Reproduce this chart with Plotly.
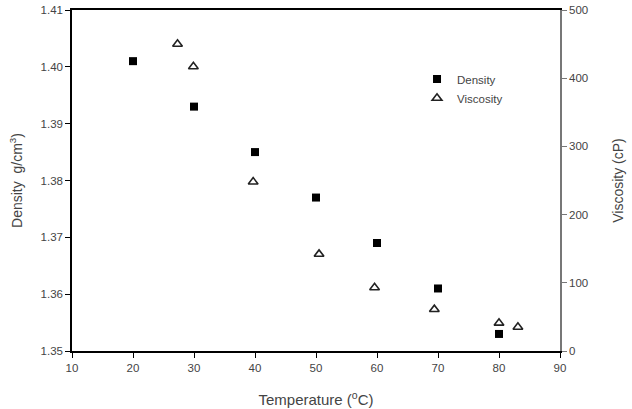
import plotly.graph_objects as go

temp_density = [20, 30, 40, 50, 60, 70, 80]
density = [1.401, 1.393, 1.385, 1.377, 1.369, 1.361, 1.353]

temp_visc = [27.3, 29.9, 39.7, 50.5, 59.6, 69.4, 80.0, 83.1]
viscosity = [450, 417, 248, 142, 93, 61, 41, 35]

x_ticks = [10, 20, 30, 40, 50, 60, 70, 80, 90]
y_ticks = [1.35, 1.36, 1.37, 1.38, 1.39, 1.40, 1.41]
y2_ticks = [0, 100, 200, 300, 400, 500]

FONT = "Liberation Sans, Arial, sans-serif"
TXT = "#444"

fig = go.Figure()
fig.add_trace(go.Scatter(
    x=temp_density, y=density, mode="markers", name="Density",
    marker=dict(symbol="square", size=8, color="black", line=dict(width=0)),
))
fig.add_trace(go.Scatter(
    x=temp_visc, y=viscosity, mode="markers", name="Viscosity", yaxis="y2",
    marker=dict(symbol="triangle-up-open", size=8.5, color="#222", line=dict(width=1.6)),
))

fig.update_layout(
    width=632, height=409,
    margin=dict(l=72, r=72, t=10, b=58),
    plot_bgcolor="white", paper_bgcolor="white",
    font=dict(family=FONT, size=11.5, color=TXT),
    showlegend=True,
    legend=dict(x=0.707, y=0.84, xanchor="left", yanchor="top",
                bgcolor="rgba(0,0,0,0)", font=dict(size=11.5, color=TXT),
                itemwidth=30, tracegroupgap=0),
    xaxis=dict(range=[10, 90], tickvals=x_ticks, ticks="outside", ticklen=5,
               tickcolor="black", showline=True, linecolor="black", linewidth=1.5,
               mirror=True, showgrid=False, zeroline=False, automargin=False,
               title=dict(text="Temperature (<sup>o</sup>C)", font=dict(size=15, color=TXT), standoff=22),
               tickfont=dict(size=11.5, color=TXT)),
    yaxis=dict(range=[1.35, 1.41], tickvals=y_ticks, tickformat=".2f",
               ticks="outside", ticklen=5, tickcolor="black", showline=True,
               linecolor="black", linewidth=1.5, showgrid=False, zeroline=False,
               automargin=False,
               title=dict(text="Density  g/cm<sup>3</sup>)", font=dict(size=14, color=TXT), standoff=15),
               tickfont=dict(size=11.5, color=TXT)),
    yaxis2=dict(range=[0, 500], tickvals=y2_ticks, overlaying="y", side="right",
                ticks="outside", ticklen=5, tickcolor="#777", showline=True,
                linecolor="#777", linewidth=1.5, showgrid=False, zeroline=False,
                automargin=False,
                title=dict(text="Viscosity (cP)", font=dict(size=14, color=TXT), standoff=26),
                tickfont=dict(size=11.5, color=TXT)),
)

fig.write_html("out.html")
